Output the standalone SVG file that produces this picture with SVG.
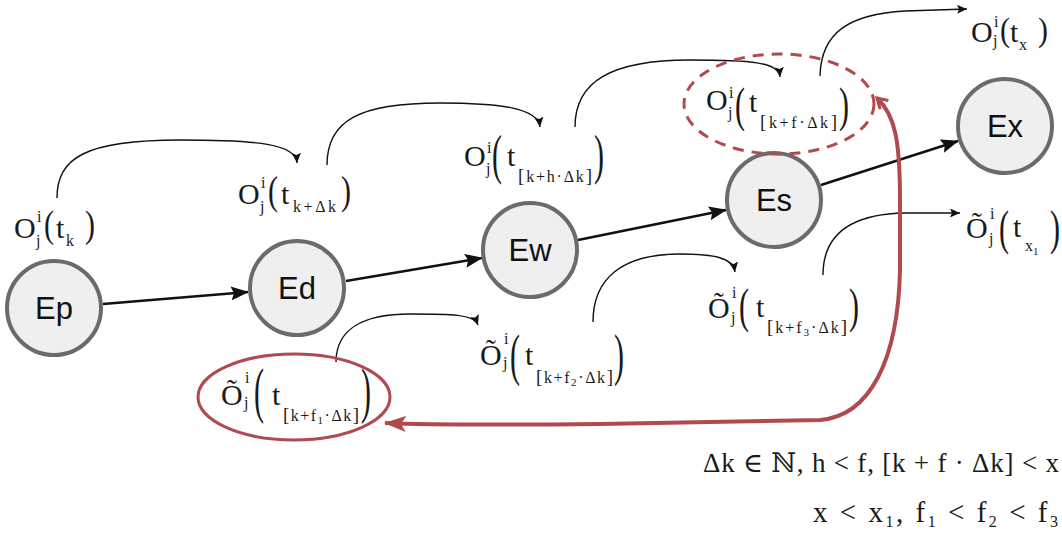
<svg xmlns="http://www.w3.org/2000/svg" width="1062" height="536" viewBox="0 0 1062 536">
<defs>
<style>
.n circle{fill:#efefef;stroke:#6b6b6b;stroke-width:4}
.n text{font-family:"Liberation Sans",Arial,sans-serif;font-size:31px;text-anchor:middle;fill:#111}
.m{font-family:"Liberation Serif","DejaVu Serif","Times New Roman",serif;fill:#1a1a1a}
.o{font-size:30px}
.s{font-size:16px}
.b{font-size:19px}
.p{font-size:30px}
.thick{fill:none;stroke:#111;stroke-width:2.6}
.thin{fill:none;stroke:#111;stroke-width:1.4}
.red{fill:none;stroke:#b14a4f;stroke-width:4}
</style>
<marker id="ah" markerWidth="18" markerHeight="14" refX="17" refY="7" orient="auto" markerUnits="userSpaceOnUse"><path d="M0,0 L18,7 L0,14 L3,7 z" fill="#111"/></marker>
<marker id="at" markerWidth="10" markerHeight="9" refX="10" refY="4.5" orient="auto" markerUnits="userSpaceOnUse"><path d="M0,0 L10,4.5 L0,9 L2,4.5 z" fill="#111"/></marker>
<marker id="ar" markerWidth="22" markerHeight="16" refX="21" refY="8" orient="auto" markerUnits="userSpaceOnUse"><path d="M0,0 L22,8 L0,16 L5,8 z" fill="#b14a4f"/></marker>
<marker id="ars" markerWidth="14" markerHeight="14" refX="11" refY="7" orient="auto-start-reverse" markerUnits="userSpaceOnUse"><path d="M1,1 L11,7 L1,13" fill="none" stroke="#b14a4f" stroke-width="3"/></marker>
</defs>
<rect width="1062" height="536" fill="#fff"/>

<g id="connectors">
<path class="thick" d="M103,304 L248,292" marker-end="url(#ah)"/>
<path class="thick" d="M346,281 L482,258" marker-end="url(#ah)"/>
<path class="thick" d="M578,240 L726,210" marker-end="url(#ah)"/>
<path class="thick" d="M821,185 L958,141" marker-end="url(#ah)"/>
<path class="thin" d="M57,198 C57,158 85,140 180,140 C258,140 296,144 297,163" marker-end="url(#at)"/>
<path class="thin" d="M327,165 C327,120 360,103 440,103 C500,103 538,108 540,127" marker-end="url(#at)"/>
<path class="thin" d="M575,127 C575,82 610,60 690,60 C750,60 779,62 780,77" marker-end="url(#at)"/>
<path class="thin" d="M820,76 C821,32 850,14 905,11 L967,9" marker-end="url(#at)"/>
<path class="thin" d="M336,362 C336,328 365,314 410,314 C450,314 474,314 478,325" marker-end="url(#at)"/>
<path class="thin" d="M593,322 C593,280 620,254 680,254 C715,254 733,258 735,272" marker-end="url(#at)"/>
<path class="thin" d="M823,275 C823,235 850,214 905,213 L960,213" marker-end="url(#at)"/>
<path class="red" d="M877,98 C895,115 900,140 900,200 L900,270 C898,360 870,416 820,420 L600,424 C500,425 430,425 385,423" marker-start="url(#ars)" marker-end="url(#ar)"/>
</g>

<g id="node-ep" class="n"><circle cx="54" cy="308" r="47"/><text x="54" y="319">Ep</text></g>
<g id="node-ed" class="n"><circle cx="297" cy="288" r="47"/><text x="297" y="299">Ed</text></g>
<g id="node-ew" class="n"><circle cx="530" cy="250" r="47"/><text x="530" y="261">Ew</text></g>
<g id="node-es" class="n"><circle cx="774" cy="200" r="47"/><text x="774" y="211">Es</text></g>
<g id="node-ex" class="n"><circle cx="1005" cy="126" r="47"/><text x="1005" y="137">Ex</text></g>

<g id="label-tk" class="m">
<text class="o" x="14" y="238">O</text><text class="s" x="37" y="222">i</text><text class="s" x="36" y="246">j</text>
<text class="p" transform="translate(44,236.8) scale(1,1.29)">(</text>
<text class="o" x="56" y="238">t</text><text class="s" x="66" y="246">k</text>
<text class="p" transform="translate(85,236.8) scale(1,1.29)">)</text>
</g>

<g id="label-tkdk" class="m">
<text class="o" x="238" y="204">O</text><text class="s" x="261" y="188">i</text><text class="s" x="260" y="212">j</text>
<text class="p" transform="translate(268,204.3) scale(1,1.36)">(</text>
<text class="o" x="281" y="204">t</text><text class="s" x="293" y="212" textLength="43" lengthAdjust="spacing">k+Δk</text>
<text class="p" transform="translate(341,204.3) scale(1,1.36)">)</text>
</g>

<g id="label-h" class="m">
<text class="o" x="464" y="166">O</text><text class="s" x="487" y="153">i</text><text class="s" x="486" y="174">j</text>
<text class="p" transform="translate(492,172.5) scale(1,1.8)">(</text>
<text class="o" x="507" y="166">t</text>
<text class="s" x="518" y="182" textLength="74" lengthAdjust="spacing"><tspan class="b">[</tspan>k+h·Δk<tspan class="b">]</tspan></text>
<text class="p" transform="translate(594,172.5) scale(1,1.8)">)</text>
</g>

<g id="label-f" class="m">
<text class="o" x="706" y="110">O</text><text class="s" x="729" y="98">i</text><text class="s" x="728" y="118">j</text>
<text class="p" transform="translate(735,120.6) scale(1,1.62)">(</text>
<text class="o" x="749" y="112">t</text>
<text class="s" x="760" y="128" textLength="77" lengthAdjust="spacing"><tspan class="b">[</tspan>k+f·Δk<tspan class="b">]</tspan></text>
<text class="p" transform="translate(839,120.6) scale(1,1.62)">)</text>
</g>

<g id="label-tx" class="m">
<text class="o" x="971" y="42">O</text><text class="s" x="994" y="27">i</text><text class="s" x="993" y="46">j</text>
<text class="p" transform="translate(1000,41) scale(1,1.1)">(</text>
<text class="o" x="1010" y="42">t</text><text class="s" x="1019" y="50">x</text>
<text class="p" transform="translate(1038,41) scale(1,1.1)">)</text>
</g>

<g id="label-tx1" class="m">
<text class="o" x="966" y="238">Õ</text><text class="s" x="990" y="219">i</text><text class="s" x="989" y="244">j</text>
<text class="p" transform="translate(999,243.6) scale(1,1.62)">(</text>
<text class="o" x="1013" y="237">t</text><text class="s" x="1025" y="251">x<tspan font-size="11" dy="4">1</tspan></text>
<text class="p" transform="translate(1050,243.6) scale(1,1.62)">)</text>
</g>

<g id="label-f3" class="m">
<text class="o" x="708" y="318">Õ</text><text class="s" x="732" y="298">i</text><text class="s" x="731" y="323">j</text>
<text class="p" transform="translate(739,322) scale(1,1.62)">(</text>
<text class="o" x="756" y="317">t</text>
<text class="s" x="767" y="333" textLength="80" lengthAdjust="spacing"><tspan class="b">[</tspan>k+f<tspan font-size="11" dy="3">3</tspan><tspan dy="-3">·Δk</tspan><tspan class="b">]</tspan></text>
<text class="p" transform="translate(849,322) scale(1,1.62)">)</text>
</g>

<g id="label-f2" class="m">
<text class="o" x="480" y="365">Õ</text><text class="s" x="504" y="344">i</text><text class="s" x="503" y="368">j</text>
<text class="p" transform="translate(510,374) scale(1,1.9)">(</text>
<text class="o" x="525" y="365">t</text>
<text class="s" x="536" y="383" textLength="77" lengthAdjust="spacing"><tspan class="b">[</tspan>k+f<tspan font-size="11" dy="3">2</tspan><tspan dy="-3">·Δk</tspan><tspan class="b">]</tspan></text>
<text class="p" transform="translate(614,374) scale(1,1.9)">)</text>
</g>

<g id="label-f1" class="m">
<text class="o" x="221" y="405">Õ</text><text class="s" x="245" y="383">i</text><text class="s" x="244" y="408">j</text>
<text class="p" transform="translate(254,410.8) scale(1,2.06)">(</text>
<text class="o" x="272" y="405">t</text>
<text class="s" x="283" y="421" textLength="76" lengthAdjust="spacing"><tspan class="b">[</tspan>k+f<tspan font-size="11" dy="3">1</tspan><tspan dy="-3">·Δk</tspan><tspan class="b">]</tspan></text>
<text class="p" transform="translate(361,410.8) scale(1,2.06)">)</text>
</g>

<ellipse id="mark-f" cx="779" cy="104" rx="95" ry="50" fill="none" stroke="#b14a4f" stroke-width="3" stroke-dasharray="11,8"/>
<ellipse id="mark-f1" cx="294" cy="397" rx="96" ry="43" fill="none" stroke="#b14a4f" stroke-width="3"/>

<g id="conditions" class="m">
<text x="703" y="472" font-size="27" textLength="356" lengthAdjust="spacing">Δk ∈ ℕ, h &lt; f, [k + f · Δk] &lt; x</text>
<text x="813" y="522" font-size="29" textLength="245" lengthAdjust="spacing">x &lt; x<tspan font-size="16" dy="5">1</tspan><tspan dy="-5">, f</tspan><tspan font-size="16" dy="5">1</tspan><tspan dy="-5"> &lt; f</tspan><tspan font-size="16" dy="5">2</tspan><tspan dy="-5"> &lt; f</tspan><tspan font-size="16" dy="5">3</tspan></text>
</g>
</svg>
